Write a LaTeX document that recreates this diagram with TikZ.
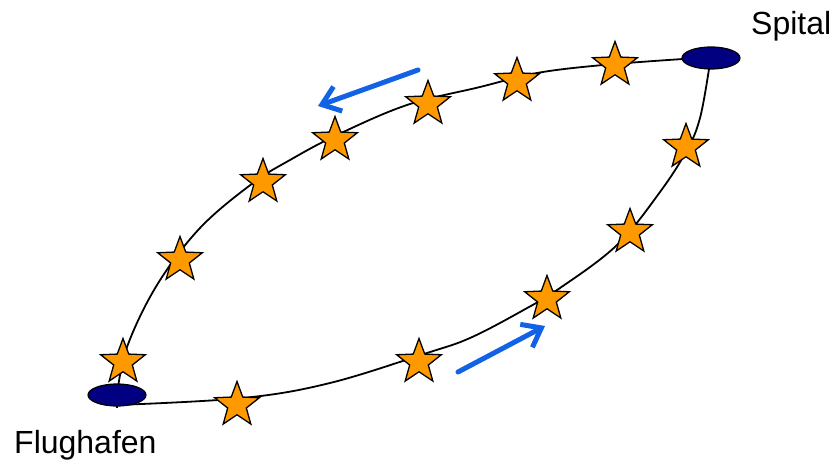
\documentclass[tikz,border=0pt]{standalone}
\usepackage{fontspec}
\setmainfont{Liberation Sans}
\usetikzlibrary{shapes.geometric,arrows.meta}
\definecolor{starorange}{RGB}{255,153,0}
\definecolor{stopnavy}{RGB}{0,0,128}
\definecolor{arrowblue}{RGB}{18,98,230}
\tikzset{
  stopstar/.style={star, star points=5, star point ratio=2.4, minimum size=47pt, inner sep=0pt,
    fill=starorange, draw=black, line width=1.3pt},
  stopoval/.style={ellipse, minimum width=58pt, minimum height=22pt, inner sep=0pt,
    fill=stopnavy, draw=black, line width=1.2pt},
  route/.style={line width=1.8pt, black},
  dirarrow/.style={line width=5pt, arrowblue, line cap=round,
    -{Straight Barb[length=17pt, width=26pt]}},
  place/.style={font=\fontsize{32}{38}\selectfont, inner sep=0pt, anchor=base west}
}
\begin{document}
\begin{tikzpicture}[x=1pt,y=-1pt]
\useasboundingbox (0,0) rectangle (835,465);
% route points
\coordinate (Fc) at (117,395);
\coordinate (Fb) at (117,405);
\coordinate (Sl) at (683,59);
\coordinate (Sb) at (709,69);
\coordinate (u1) at (127,347);
\coordinate (u2) at (157,285);
\coordinate (u3) at (200,228);
\coordinate (u4) at (253,183);
\coordinate (u5) at (290,160);
\coordinate (u6) at (337,135);
\coordinate (u7) at (407,105);
\coordinate (u8) at (480,87);
\coordinate (u9) at (537,73);
\coordinate (u10) at (603,65);
\coordinate (l1) at (243,398);
\coordinate (l2) at (330,383);
\coordinate (l3) at (427,353);
\coordinate (l4) at (470,338);
\coordinate (l5) at (520,312);
\coordinate (l6) at (560,288);
\coordinate (l7) at (617,245);
\coordinate (l8) at (660,192);
\coordinate (l9) at (687,150);
\coordinate (l10) at (700,118);
\draw[route] plot[smooth, tension=0.6] coordinates {(Fc) (u1) (u2) (u3) (u4) (u5) (u6) (u7) (u8) (u9) (u10) (Sl)};
\draw[route] plot[smooth, tension=0.6] coordinates {(Fb) (l1) (l2) (l3) (l4) (l5) (l6) (l7) (l8) (l9) (l10) (Sb)};
\draw[route] (Fc) -- ++(0,13);
% stops
\node[stopoval] (F) at (117,395) {};
\node[stopoval] (S) at (711,58) {};
% stars
\node[stopstar] (s1) at (123,362) {};
\node[stopstar] (s2) at (180,260) {};
\node[stopstar] (s3) at (263,182) {};
\node[stopstar] (s4) at (335,140) {};
\node[stopstar] (s5) at (428,104) {};
\node[stopstar] (s6) at (517,81) {};
\node[stopstar] (s7) at (615,65) {};
\node[stopstar] (s8) at (686,147) {};
\node[stopstar] (s9) at (630,232) {};
\node[stopstar] (s10) at (547,299) {};
\node[stopstar] (s11) at (419,362) {};
\node[stopstar] (s12) at (237,405) {};
% direction arrows
\coordinate (a1s) at (418,70);
\coordinate (a1e) at (318,106);
\coordinate (a2s) at (458,372);
\coordinate (a2e) at (545,326);
\draw[dirarrow] (a1s) -- (a1e);
\draw[dirarrow] (a2s) -- (a2e);
% labels
\node[place] (spital) at (751,35) {Spital};
\node[place] (flug) at (14,453) {Flughafen};
\end{tikzpicture}
\end{document}
